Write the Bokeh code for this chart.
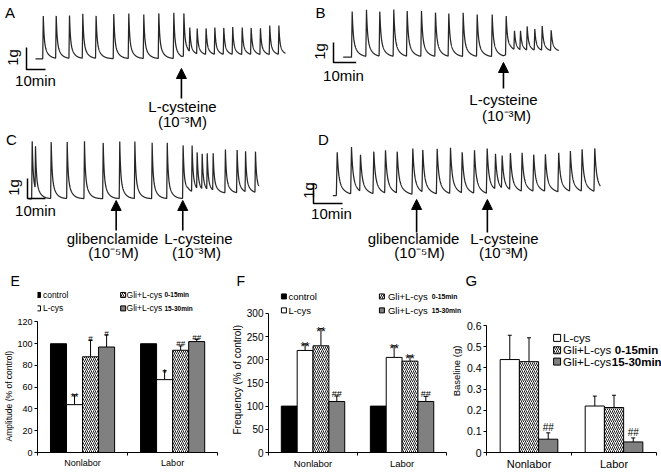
import numpy as np
from math import pi
from bokeh.plotting import figure
from bokeh.layouts import column, row
from bokeh.models import (Range1d, Label, Arrow, NormalHead, FixedTicker,
                          Whisker, TeeHead, ColumnDataSource, Title)
from bokeh.embed import file_html
from bokeh.resources import INLINE
from bokeh.core.properties import value

# ======================= DATA =======================
# Isometric tension recordings: contraction peak times (min from start of the
# record shown), peak force (g above the resting tone), record length (min),
# times of drug additions (min), rise of resting tone after L-cysteine (g)
A_peak_min = [4.1, 10.9, 17.9, 24.9, 31.9, 41.2, 49.1, 57.0, 64.9, 72.8, 78.1,
              81.2, 85.1, 89.8, 94.4, 99.1, 103.8, 108.8, 113.5, 118.4, 123.3, 128.1]
A_peak_g = [1.97, 2.01, 2.00, 2.05, 2.01, 2.09, 2.09, 2.01, 2.12, 2.12, 2.12,
            1.44, 1.39, 1.41, 1.44, 1.44, 1.44, 1.44, 1.44, 1.41, 1.51, 1.51]
A_end_min = 131.6
A_drug_min = [76.8]                 # L-cysteine
A_tone_g = 0.15

B_peak_min = [3.96, 10.26, 16.12, 22.29, 28.19, 34.49, 40.66, 46.52, 52.86, 59.03,
              65.64, 71.81, 75.46, 78.11, 81.06, 84.41, 87.67, 91.63]
B_peak_g = [2.29, 2.37, 2.34, 2.39, 2.34, 2.34, 2.29, 2.22, 2.22, 2.17,
            2.14, 2.09, 1.34, 1.34, 1.54, 1.42, 1.59, 1.37]
B_end_min = 95.0
B_drug_min = [70.6]                 # L-cysteine
B_tone_g = 0.25

C_peak_min = [2.06, 3.89, 12.61, 21.5, 31.1, 41.5, 50.7, 59.1, 68.7, 77.1,
              85.9, 90.9, 93.7, 96.5, 99.3, 102.6, 109.4, 115.9, 120.6, 126.1]
C_peak_g = [2.92, 2.67, 2.92, 2.88, 2.92, 2.88, 2.87, 2.87, 2.80, 2.80,
            2.75, 2.67, 2.38, 2.28, 2.28, 2.28, 2.50, 2.50, 2.38, 2.42]
C_end_min = 127.9
C_drug_min = [48.7, 85.7]           # glibenclamide, L-cysteine
C_tone_g = 0.27

D_peak_min = [1.52, 6.45, 9.55, 14.14, 18.17, 22.21, 27.59, 31.03, 36.0, 40.59,
              44.62, 48.86, 53.24, 56.1, 58.41, 61.24, 65.28, 69.28, 73.31, 77.9,
              81.93, 85.97, 90.34]
D_peak_g = [2.20, 2.42, 2.09, 2.25, 2.30, 2.25, 2.39, 2.34, 2.34, 2.39,
            2.22, 2.30, 2.39, 2.09, 2.00, 2.17, 2.14, 2.09, 2.09, 2.17,
            2.22, 2.34, 2.42]
D_end_min = 92.3
D_drug_min = [28.9, 53.3]           # glibenclamide, L-cysteine
D_tone_g = 0.10

# Bar charts: mean and error (groups Nonlabor, Labor)
GROUPS = ["Nonlabor", "Labor"]
SERIES = ["control", "L-cys", "Gli+L-cys 0-15min", "Gli+L-cys 15-30min"]

E_control = [100, 100]
E_control_err = [0, 0]
E_lcys = [44, 67]
E_lcys_err = [9, 8]
E_gli_early = [88, 94]
E_gli_early_err = [15, 4]
E_gli_late = [97, 102]
E_gli_late_err = [11, 2]
E_lcys_sig = ["**", "*"]
E_gli_early_sig = ["#", "##"]
E_gli_late_sig = ["#", "##"]
E_yticks = [0, 20, 40, 60, 80, 100, 120]

F_control = [100, 100]
F_control_err = [0, 0]
F_lcys = [220, 205]
F_lcys_err = [14, 25]
F_gli_early = [230, 197]
F_gli_early_err = [37, 11]
F_gli_late = [110, 110]
F_gli_late_err = [12, 11]
F_lcys_sig = ["**", "**"]
F_gli_early_sig = ["**", "**"]
F_gli_late_sig = ["##", "##"]
F_yticks = [0, 50, 100, 150, 200, 250, 300]

G_lcys = [0.44, 0.22]
G_lcys_err = [0.115, 0.047]
G_gli_early = [0.43, 0.213]
G_gli_early_err = [0.113, 0.058]
G_gli_late = [0.063, 0.05]
G_gli_late_err = [0.03, 0.019]
G_gli_late_sig = ["##", "##"]
G_yticks = [0, 0.1, 0.2, 0.3, 0.4, 0.5, 0.6]
G_ytick_labels = ["0", "0.1", "0.2", "0.3", "0.4", "0.5", "0.6"]

# ======================= LAYOUT HELPERS =======================
FONT = "Liberation Sans"
CANVAS_W, CANVAS_H = 661, 472
SX, SY = CANVAS_W / 661, CANVAS_H / 472
FS = 1.0


def px(x):
    return int(round(x * SX))


def py(y):
    return int(round(y * SY))


def fsz(s):
    return f"{s * FS:.1f}px"


def add_label(p, x, y, text, size, align="center", baseline="middle",
              angle=0.0, bold=False):
    p.add_layout(Label(x=x, y=y, text=text, text_font=FONT,
                       text_font_size=fsz(size), text_align=align,
                       text_baseline=baseline, angle=angle,
                       text_font_style="bold" if bold else "normal",
                       text_color="black"))


RISE = 0.3


def waveform(peak_t, peak_g, end_t, drug_t, tone_after):
    t = np.arange(0.0, end_t + 1e-9, 0.03)
    last = drug_t[-1]

    def tone(tt):
        return tone_after * np.clip((np.asarray(tt, dtype=float) - last) / 3.0, 0.0, 1.0)

    y = np.zeros_like(t)
    for tp, g in zip(peak_t, peak_g):
        amp = g - float(tone(tp))
        d = t - tp
        shape = np.zeros_like(t)
        r = (d >= -RISE) & (d < 0)
        shape[r] = 1.0 + d[r] / RISE
        k = d >= 0
        shape[k] = 0.6 * np.exp(-d[k] / 0.45) + 0.4 * np.exp(-d[k] / 2.0)
        y = np.maximum(y, amp * shape)
    return t, y + tone(t)


def trace_panel(box, origin, ppm, ppg, peak_t, peak_g, end_t, drug_t, tone_after,
                letter, letter_xy, corner, g_xy, min_xy, arrows, texts):
    L, T, R, B = px(box[0]), py(box[1]), px(box[2]), py(box[3])
    ox, oy = origin

    def tx(xr):
        return (xr - ox) / ppm

    def gy(yr):
        return (oy - yr) / ppg

    p = figure(width=R - L, height=B - T,
               x_range=Range1d(tx(L / SX), tx(R / SX)),
               y_range=Range1d(gy(B / SY), gy(T / SY)),
               x_axis_type=None, y_axis_type=None, output_backend="svg",
               toolbar_location=None, min_border=0, outline_line_color=None)
    t, y = waveform(peak_t, peak_g, end_t, drug_t, tone_after)
    p.line(t, y, line_color="#262626", line_width=1.25)
    # scale bar: 10 min x 1 g
    cx, cy = tx(corner[0]), gy(corner[1])
    p.line([cx, cx, cx + 10], [cy + 1, cy, cy], line_color="black", line_width=1.5)
    add_label(p, tx(letter_xy[0]), gy(letter_xy[1]), letter, 15)
    add_label(p, tx(g_xy[0]), gy(g_xy[1]), "1g", 15, angle=pi / 2)
    add_label(p, tx(min_xy[0]), gy(min_xy[1]), "10min", 15)
    for d, tip, tail in arrows:
        p.add_layout(Arrow(end=NormalHead(size=10, fill_color="black", line_color="black"),
                           x_start=d, y_start=gy(tail), x_end=d, y_end=gy(tip),
                           line_color="black", line_width=1.6))
    for txt, xr, yr in texts:
        add_label(p, tx(xr), gy(yr), txt, 15)
    return p


STYLES = {
    "control": dict(fill_color="black", line_color="black"),
    "lcys": dict(fill_color="white", line_color="black"),
    "gli_early": dict(fill_color="white", line_color="black",
                      hatch_pattern="right_diagonal_line", hatch_color="black",
                      hatch_scale=4, hatch_weight=0.9),
    "gli_late": dict(fill_color="#808080", line_color="black"),
}

FRAME_TOP = 288


def bar_panel(box, axis_x, kx, axis_y, ky, ymax, yticks, ylabels, tick_size,
              xlab_size, letter, letter_left, letter_size, ylabel, ylabel_size,
              ylabel_bottom):
    L, T, R, B = px(box[0]), py(box[1]), px(box[2]), py(box[3])
    fl, fb, ft = px(axis_x), py(axis_y), py(FRAME_TOP)
    x_end = 0.5 + (R - fl) / (SX * kx)
    y_end = (fb - ft) / (SY * ky)
    p = figure(width=R - L, height=B - T, x_range=Range1d(0.5, x_end),
               y_range=Range1d(0, y_end), output_backend="svg",
               toolbar_location=None, min_border_left=fl - L, min_border_right=0,
               min_border_top=ft - T, min_border_bottom=B - fb,
               outline_line_color=None, title=letter)
    p.title.align = "left"
    p.title.offset = px(letter_left) - fl
    p.title.standoff = 0
    p.title.vertical_align = "bottom"
    p.title.text_font = FONT
    p.title.text_font_size = fsz(letter_size)
    p.title.text_font_style = "normal"
    p.title.text_color = "black"
    p.grid.visible = False
    xa, ya = p.xaxis[0], p.yaxis[0]
    xa.bounds = (0.5, 2.5)
    xa.ticker = FixedTicker(ticks=[1, 2], minor_ticks=[0.5, 1.5, 2.5])
    xa.major_label_overrides = {1: GROUPS[0], 2: GROUPS[1]}
    xa.major_tick_out = 0
    xa.major_tick_in = 0
    xa.minor_tick_out = 3
    xa.minor_tick_in = 0
    xa.major_label_standoff = 2
    xa.major_label_text_font = FONT
    xa.major_label_text_font_size = fsz(xlab_size)
    xa.major_label_text_color = "black"
    xa.axis_line_color = "black"
    ya.bounds = (0, ymax)
    ya.ticker = FixedTicker(ticks=yticks)
    ya.major_label_overrides = dict(zip(yticks, ylabels))
    ya.minor_tick_line_color = None
    ya.major_tick_out = 3
    ya.major_tick_in = 0
    ya.major_label_standoff = 2
    ya.major_label_text_font = FONT
    ya.major_label_text_font_size = fsz(tick_size)
    ya.major_label_text_color = "black"
    ya.axis_line_color = "black"
    if ylabel:
        p.add_layout(Title(text=ylabel, align="left", vertical_align="bottom",
                           offset=fb - py(ylabel_bottom), standoff=2,
                           text_font=FONT, text_font_size=fsz(ylabel_size),
                           text_font_style="normal", text_color="black"), "left")

    def tx(xr):
        return 0.5 + (xr * SX - fl) / (SX * kx)

    def gy(yr):
        return (fb - yr * SY) / (SY * ky)

    return p, tx, gy


def draw_bars(p, series, offsets, width, star_size, hash_size, hash_off):
    cats = np.array([1.0, 2.0])
    for (vals, errs, sigs, key), off in zip(series, offsets):
        xs = cats + off
        vals = np.asarray(vals, dtype=float)
        errs = np.asarray(errs, dtype=float)
        p.vbar(x=xs, top=vals, bottom=0, width=width, line_width=1, **STYLES[key])
        if errs.max() > 0:
            src = ColumnDataSource(dict(x=xs, lower=vals, upper=vals + errs))
            p.add_layout(Whisker(source=src, base="x", lower="lower", upper="upper",
                                 line_color="black", line_width=1, lower_head=None,
                                 upper_head=TeeHead(size=4, line_color="black", line_width=1)))
        if sigs is not None:
            for x, top, s in zip(xs, vals + errs, sigs):
                star = "*" in s
                p.text(x=[x], y=[top], text=[s], text_font=value(FONT),
                       text_font_size=fsz(star_size if star else hash_size),
                       text_align="center", text_baseline="alphabetic",
                       y_offset=3 if star else hash_off, text_color="black")


def draw_legend(p, tx, gy, items):
    for key, xr, yr, size, texts in items:
        p.scatter(x=[tx(xr)], y=[gy(yr)], marker="square", size=size, line_width=1,
                  **STYLES[key])
        for txt, xt, bold, s in texts:
            add_label(p, tx(xt), gy(yr), txt, s, align="left", bold=bold)


# ======================= PANELS A-D =======================
ROW1, ROW2, ROW3 = 130, 262, 472
pA = trace_panel((0, 0, 310, ROW1), (35, 58.3), 1.9, 22,
                 A_peak_min, A_peak_g, A_end_min, A_drug_min, A_tone_g,
                 "A", (9.5, 12), (26, 69), (12, 57), (35, 80),
                 [(A_drug_min[0], 68, 98)],
                 [("L-cysteine", 182, 106), ("(10\u207b\u00b3M)", 182, 121)])
pB = trace_panel((310, 0, 661, ROW1), (342.7, 56.7), 2.27, 20,
                 B_peak_min, B_peak_g, B_end_min, B_drug_min, B_tone_g,
                 "B", (320, 12), (333, 62), (319, 51), (343, 75),
                 [(B_drug_min[0], 62, 88)],
                 [("L-cysteine", 503, 99), ("(10\u207b\u00b3M)", 506, 115)])
pC = trace_panel((0, ROW1, 300, ROW2), (28, 198.3), 1.8, 20,
                 C_peak_min, C_peak_g, C_end_min, C_drug_min, C_tone_g,
                 "C", (11, 138.5), (27, 198), (13, 187), (35, 210),
                 [(C_drug_min[0], 200, 230), (C_drug_min[1], 200, 230)],
                 [("glibenclamide", 112, 238), ("(10\u207b\u2075M)", 113, 252),
                  ("L-cysteine", 198, 238), ("(10\u207b\u00b3M)", 196, 252)])
pD = trace_panel((300, ROW1, 661, ROW2), (332.3, 195), 2.9, 20,
                 D_peak_min, D_peak_g, D_end_min, D_drug_min, D_tone_g,
                 "D", (323, 139), (313, 203), (308, 190), (331, 213),
                 [(D_drug_min[0], 199, 232), (D_drug_min[1], 199, 232)],
                 [("glibenclamide", 413, 238), ("(10\u207b\u2075M)", 419, 252),
                  ("L-cysteine", 504, 238), ("(10\u207b\u00b3M)", 503, 252)])

# ======================= PANEL E =======================
pE, txE, gyE = bar_panel((0, ROW2, 228, ROW3), 34, 91.5, 453.3, 131.3 / 120, 120,
                         E_yticks, [str(v) for v in E_yticks], 9, 9,
                         "E", 7, 14, "Amplitude (% of control)", 8.5, 442)
draw_bars(pE, [(E_control, E_control_err, None, "control"),
               (E_lcys, E_lcys_err, E_lcys_sig, "lcys"),
               (E_gli_early, E_gli_early_err, E_gli_early_sig, "gli_early"),
               (E_gli_late, E_gli_late_err, E_gli_late_sig, "gli_late")],
          [-0.267, -0.089, 0.089, 0.267], 0.178, 10, 8, -2)
draw_legend(pE, txE, gyE, [
    ("control", 34.5, 294.5, 5, [("control", 39.5, False, 8.5)]),
    ("lcys", 34.5, 308, 5, [("L-cys", 39.5, False, 8.5)]),
    ("gli_early", 121, 294.5, 5, [("Gli+L-cys", 124.5, False, 8.5), ("0-15min", 163, True, 6.5)]),
    ("gli_late", 121, 308, 5, [("Gli+L-cys", 124.5, False, 8.5), ("15-30min", 163, True, 6.5)]),
])

# ======================= PANEL F =======================
pF, txF, gyF = bar_panel((228, ROW2, 463, ROW3), 267, 89.5, 453, 140 / 300, 300,
                         F_yticks, [str(v) for v in F_yticks], 10, 9.5,
                         "F", 235, 14, "Frequency (% of control)", 10, 435)
draw_bars(pF, [(F_control, F_control_err, None, "control"),
               (F_lcys, F_lcys_err, F_lcys_sig, "lcys"),
               (F_gli_early, F_gli_early_err, F_gli_early_sig, "gli_early"),
               (F_gli_late, F_gli_late_err, F_gli_late_sig, "gli_late")],
          [-0.267, -0.089, 0.089, 0.267], 0.178, 12, 9, -2)
draw_legend(pF, txF, gyF, [
    ("control", 282.5, 296, 5, [("control", 287, False, 9.5)]),
    ("lcys", 282.5, 310, 5, [("L-cys", 287, False, 9.5)]),
    ("gli_early", 381, 296, 5, [("Gli+L-cys", 387, False, 9.5), ("0-15min", 431, True, 6.8)]),
    ("gli_late", 381, 310, 5, [("Gli+L-cys", 387, False, 9.5), ("15-30min", 431, True, 6.8)]),
])
# y-axis title of panel G sits in this strip, left of G's tick labels
add_label(pF, txF(455.5), gyF(371), "Baseline (g)", 9.5, angle=pi / 2)

# ======================= PANEL G =======================
pG, txG, gyG = bar_panel((463, ROW2, 661, ROW3), 485.25, 85.5, 454, 128.3 / 0.6, 0.6,
                         G_yticks, G_ytick_labels, 10.5, 11,
                         "G", 463.5, 15, None, 0, 0)
draw_bars(pG, [(G_lcys, G_lcys_err, None, "lcys"),
               (G_gli_early, G_gli_early_err, None, "gli_early"),
               (G_gli_late, G_gli_late_err, G_gli_late_sig, "gli_late")],
          [-0.226, 0.0, 0.226], 0.226, 12, 10, -5)
draw_legend(pG, txG, gyG, [
    ("lcys", 556, 338, 7, [("L-cys", 562, False, 11.5)]),
    ("gli_early", 556, 350.5, 7, [("Gli+L-cys", 562, False, 11.5), ("0-15min", 614, True, 11.5)]),
    ("gli_late", 556, 362, 7, [("Gli+L-cys", 562, False, 11.5), ("15-30min", 611, True, 11.5)]),
])

layout = column(row(pA, pB), row(pC, pD), row(pE, pF, pG))
open("out.html", "w").write(file_html(layout, INLINE))
